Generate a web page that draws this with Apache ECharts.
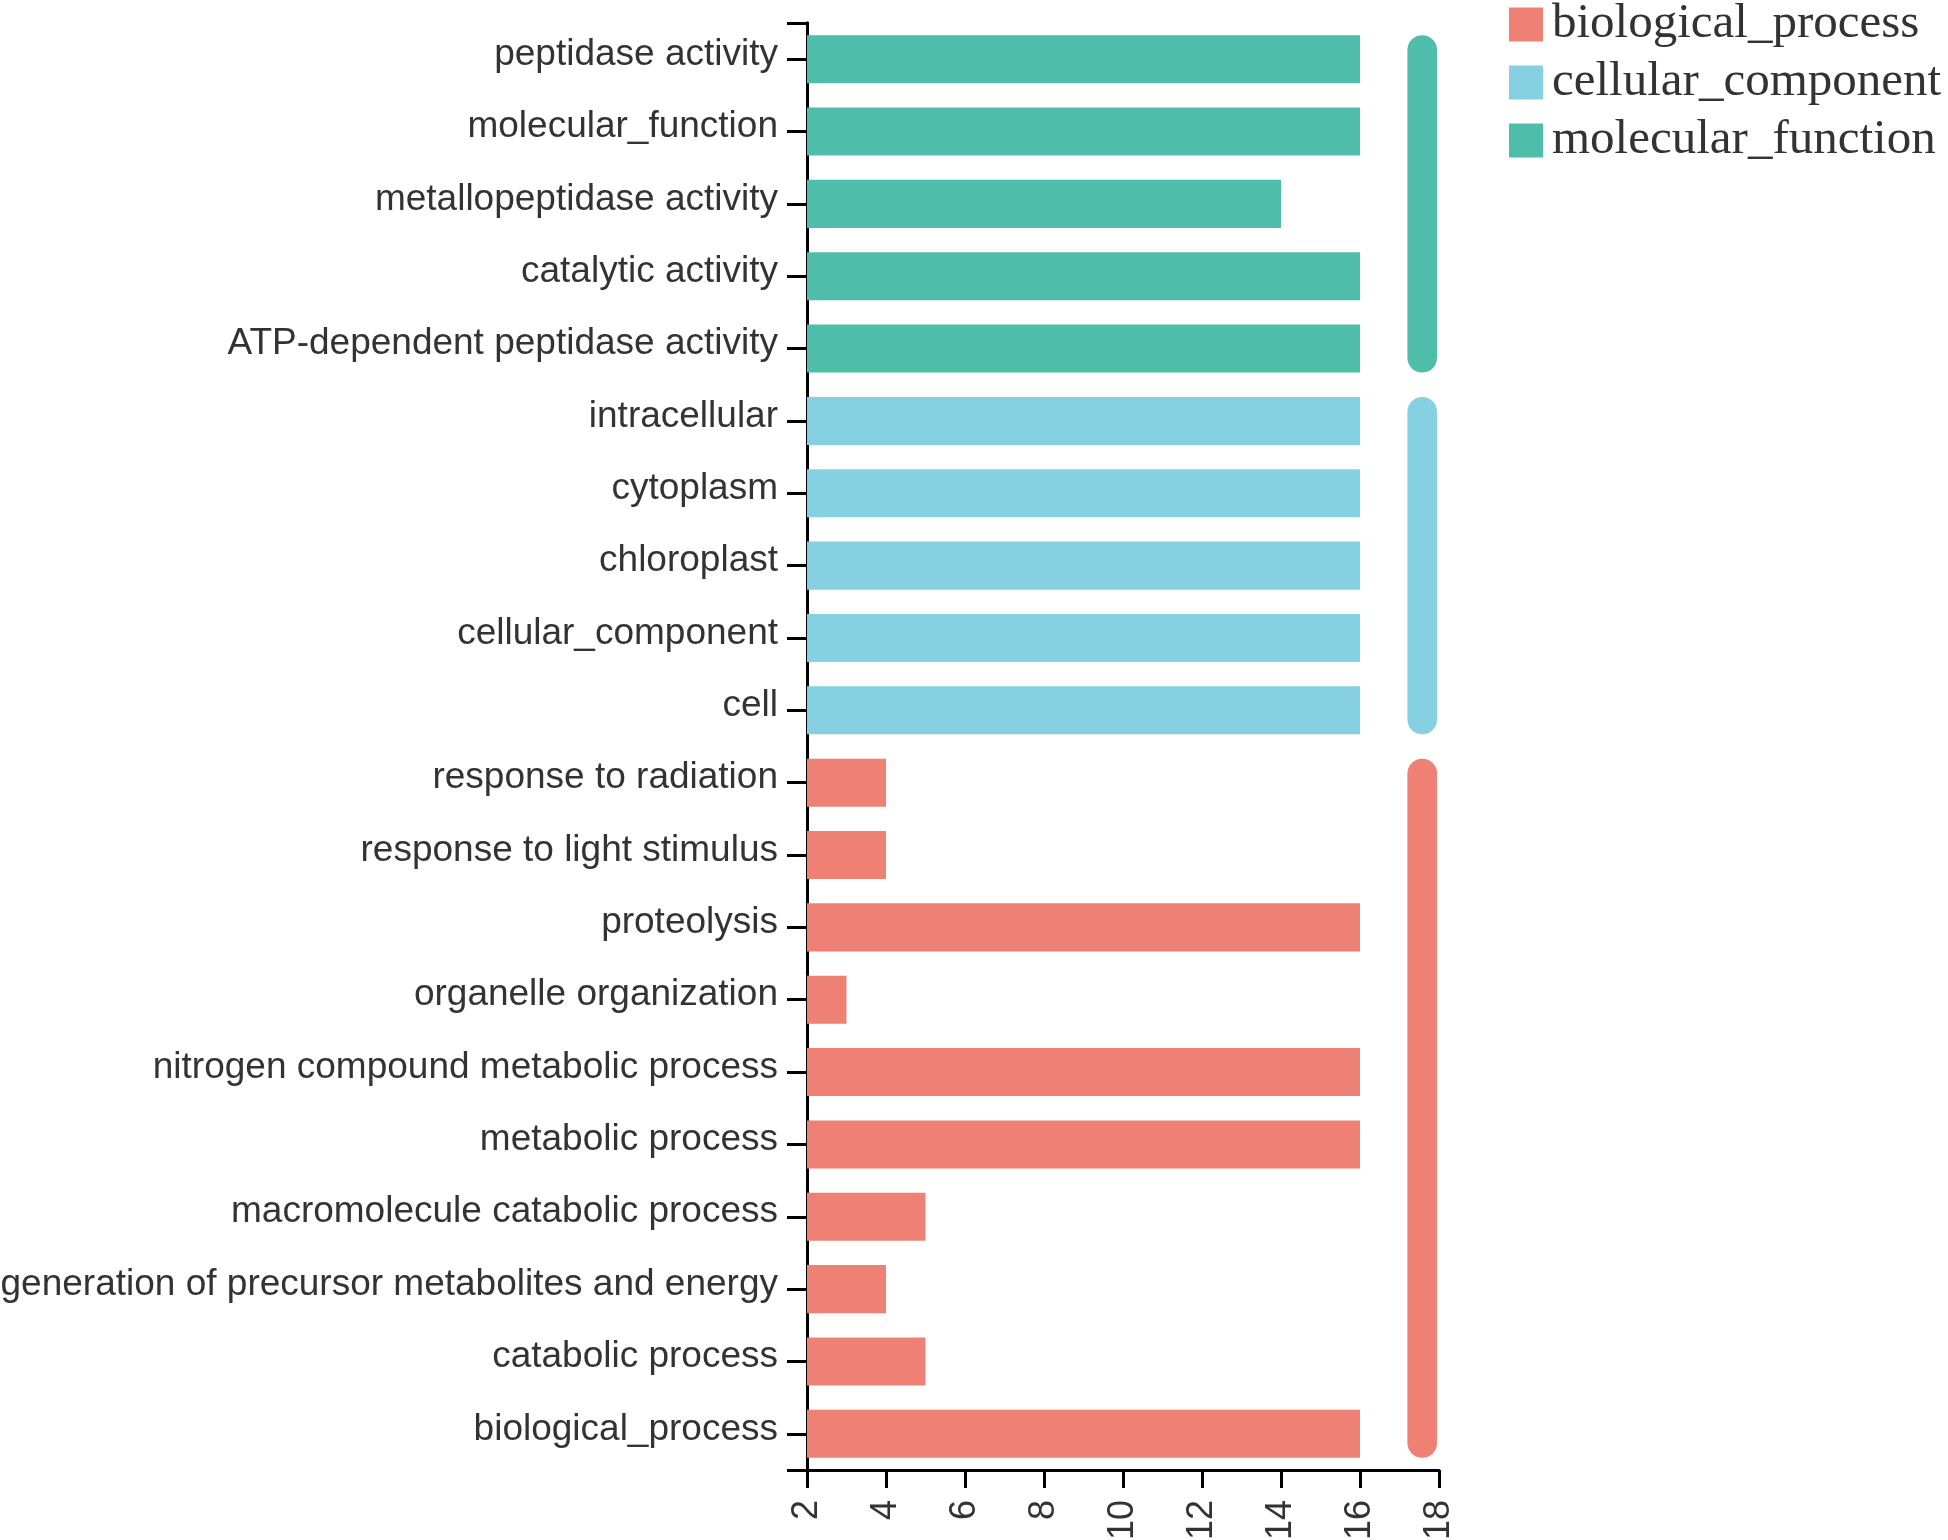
<!DOCTYPE html>
<html>
<head>
<meta charset="utf-8">
<script src="https://cdn.jsdelivr.net/npm/echarts@6/dist/echarts.min.js"></script>
<style>
html,body{margin:0;padding:0;background:#fff;}
#chart{width:1948px;height:1540px;}
</style>
</head>
<body>
<div id="chart"></div>
<script>
// Data (top-to-bottom order as displayed)
const categories = [
  'peptidase activity','molecular_function','metallopeptidase activity','catalytic activity',
  'ATP-dependent peptidase activity','intracellular','cytoplasm','chloroplast','cellular_component','cell',
  'response to radiation','response to light stimulus','proteolysis','organelle organization',
  'nitrogen compound metabolic process','metabolic process','macromolecule catabolic process',
  'generation of precursor metabolites and energy','catabolic process','biological_process'
];
const values = [16,16,14,16,16, 16,16,16,16,16, 4,4,16,3,16,16,5,4,5,16];
const groupOf = [
  'molecular_function','molecular_function','molecular_function','molecular_function','molecular_function',
  'cellular_component','cellular_component','cellular_component','cellular_component','cellular_component',
  'biological_process','biological_process','biological_process','biological_process','biological_process',
  'biological_process','biological_process','biological_process','biological_process','biological_process'
];
const groupNames = ['biological_process','cellular_component','molecular_function'];
const groupColors = ['#EF8174','#85D1E2','#4EBDAA'];
const xTicks = [2,4,6,8,10,12,14,16,18];

const chart = echarts.init(document.getElementById('chart'), null, {renderer:'canvas'});

const barSeries = groupNames.map((g, gi) => ({
  name: g,
  type: 'bar',
  xAxisIndex: 0,
  yAxisIndex: 0,
  barGap: '-100%',
  barCategoryGap: '33.6%',
  itemStyle: {color: groupColors[gi]},
  clip: true,
  data: values.map((v, i) => groupOf[i] === g ? v : '-')
}));

// group spans: [startIndex, endIndex, groupIndex]
const spans = groupNames.map((g, gi) => {
  const idx = groupOf.map((x, i) => x === g ? i : -1).filter(i => i >= 0);
  return [Math.min(...idx), Math.max(...idx), gi];
});

const sideSeries = {
  type: 'custom',
  xAxisIndex: 0,
  yAxisIndex: 0,
  silent: true,
  data: spans,
  renderItem: function (params, api) {
    const s = api.value(0), e = api.value(1), gi = api.value(2);
    const band = api.size([0, 1])[1];
    const half = band * (1 - 0.336) / 2;
    const p1 = api.coord([17.2, s]);
    const p2 = api.coord([17.95, e]);
    const y0 = p1[1] - half, y1 = p2[1] + half;
    return {
      type: 'rect',
      shape: {x: p1[0], y: y0, width: p2[0] - p1[0], height: y1 - y0, r: 15},
      style: {fill: groupColors[gi]}
    };
  }
};

const axisBlack = {lineStyle: {color: '#000', width: 3}};

const option = {
  backgroundColor: '#fff',
  animation: false,
  legend: {
    data: groupNames,
    orient: 'vertical',
    left: 1509,
    top: 0,
    padding: 0,
    itemWidth: 34,
    itemHeight: 34,
    itemGap: 9,
    icon: 'rect',
    textStyle: {
      fontFamily: 'Liberation Serif',
      fontSize: 49,
      color: '#333',
      padding: [0, 0, 0, 4]
    }
  },
  grid: {left: 807, top: 23, width: 632, height: 1447, containLabel: false, outerBoundsMode: 'none'},
  xAxis: [{
    type: 'value',
    min: xTicks[0],
    max: xTicks[xTicks.length - 1],
    interval: 2,
    axisLine: {show: true, ...axisBlack},
    axisTick: {show: true, length: 18, lineStyle: {color: '#000', width: 3}},
    splitLine: {show: false},
    axisLabel: {
      rotate: 90,
      margin: 30,
      fontFamily: 'Liberation Sans',
      fontSize: 36,
      color: '#333'
    }
  }],
  yAxis: [{
    type: 'category',
    data: categories,
    inverse: true,
    axisLine: {show: true, ...axisBlack},
    axisTick: {show: true, alignWithLabel: true, length: 20, lineStyle: {color: '#000', width: 3}},
    axisLabel: {
      margin: 29,
      formatter: function (v) { return '{t|' + v + '}'; },
      rich: {
        t: {
          fontFamily: 'Liberation Sans',
          fontSize: 37,
          color: '#333',
          padding: [0, 0, 9, 0]
        }
      }
    },
    splitLine: {show: false}
  }, {
    type: 'value',
    position: 'left',
    min: 0,
    max: 1,
    interval: 1,
    axisLine: {show: true, ...axisBlack},
    axisTick: {show: true, length: 20, lineStyle: {color: '#000', width: 3}},
    axisLabel: {show: false},
    splitLine: {show: false}
  }],
  series: [...barSeries, sideSeries]
};
chart.setOption(option);
</script>
</body>
</html>
